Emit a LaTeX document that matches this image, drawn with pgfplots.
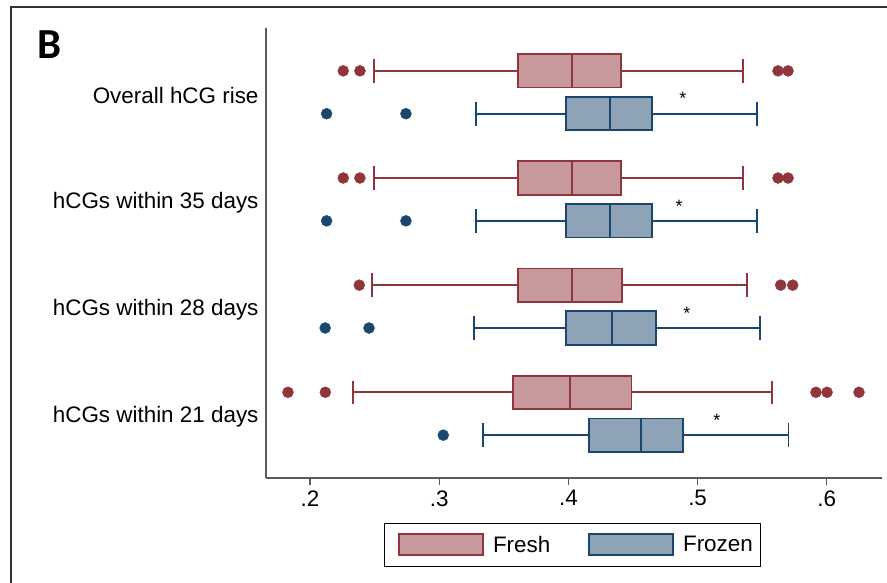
\documentclass[border=0pt]{standalone}
\usepackage{pgfplots}
\pgfplotsset{compat=1.18}
\usepgfplotslibrary{statistics}
\usepackage{fontspec}
\setmainfont{Liberation Sans}
\newfontfamily\bfont{Carlito}
\definecolor{fredE}{HTML}{90353B}
\definecolor{fredF}{HTML}{C8999C}
\definecolor{froE}{HTML}{1A476F}
\definecolor{froF}{HTML}{8FA3B6}
\definecolor{axg}{HTML}{5A5A5A}
\begin{document}
\begin{tikzpicture}
\useasboundingbox (0,0) rectangle (887bp,-583bp);
\draw[line width=1.5bp, color=black!80] (11bp,-583bp) -- (11bp,-7bp) -- (887bp,-7bp);
\node[anchor=base west, inner sep=0] at (37bp,-58bp) {\bfont\bfseries\fontsize{43}{43}\selectfont B};
\begin{axis}[
  at={(266bp,-478bp)}, anchor=south west,
  scale only axis, width=616bp, height=450bp,
  xmin=0.166, xmax=0.6427, ymin=0.4, ymax=4.6,
  axis x line*=bottom, axis y line*=left,
  axis line style={draw=axg, line width=1.2bp, -},
  xtick={0.2,0.3,0.4,0.5,0.6},
  xticklabels={.2,.3,.4,.5,.6},
  ytick={4,3,2,1},
  yticklabels={Overall hCG rise, hCGs within 35 days, hCGs within 28 days, hCGs within 21 days},
  tick align=outside,
  major tick length=7bp,
  xtick style={draw=axg, line width=1.2bp},
  ytick style={draw=none},
  tick label style={font=\fontsize{22.5}{27}\selectfont},
  /pgf/number format/assume math mode=true,
  yticklabel style={xshift=3bp, yshift=-3bp},
  xticklabel style={yshift=-2bp},
  boxplot/draw direction=x,
  boxplot/box extend=0.31,
  boxplot/whisker extend=0.22,
  legend style={at={(0.4976,-0.1)}, anchor=north, draw=black, line width=0.8bp,
    inner xsep=5.5bp, inner ysep=7bp,
    font=\fontsize{22.5}{27}\selectfont, legend columns=2,
    /tikz/every even column/.append style={column sep=28bp}},
  legend image code/.code={\draw[#1, line width=1.8bp] (0bp,-10.5bp) rectangle (84bp,10.5bp); \path (-8bp,-14bp) (92bp,14bp);},
  legend cell align=left,
]
\addlegendimage{draw=fredE, fill=fredF}
\addlegendentry{Fresh}
\addlegendimage{draw=froE, fill=froF}
\addlegendentry{Frozen}

% Overall hCG rise
\addplot[forget plot, boxplot prepared={lower whisker=0.2495, lower quartile=0.3612, median=0.4026, upper quartile=0.4405, upper whisker=0.5351, draw position=4.2}, draw=fredE, fill=fredF, line width=1.8bp] coordinates {};
\addplot[forget plot, boxplot prepared={lower whisker=0.3285, lower quartile=0.3979, median=0.4322, upper quartile=0.4645, upper whisker=0.5457, draw position=3.8}, draw=froE, fill=froF, line width=1.8bp] coordinates {};
% 35 days
\addplot[forget plot, boxplot prepared={lower whisker=0.2495, lower quartile=0.3612, median=0.4026, upper quartile=0.4405, upper whisker=0.5351, draw position=3.2}, draw=fredE, fill=fredF, line width=1.8bp] coordinates {};
\addplot[forget plot, boxplot prepared={lower whisker=0.3285, lower quartile=0.3979, median=0.4322, upper quartile=0.4645, upper whisker=0.5457, draw position=2.8}, draw=froE, fill=froF, line width=1.8bp] coordinates {};
% 28 days
\addplot[forget plot, boxplot prepared={lower whisker=0.2482, lower quartile=0.3612, median=0.4026, upper quartile=0.4417, upper whisker=0.5380, draw position=2.2}, draw=fredE, fill=fredF, line width=1.8bp] coordinates {};
\addplot[forget plot, boxplot prepared={lower whisker=0.3272, lower quartile=0.3979, median=0.4335, upper quartile=0.4676, upper whisker=0.5483, draw position=1.8}, draw=froE, fill=froF, line width=1.8bp] coordinates {};
% 21 days
\addplot[forget plot, boxplot prepared={lower whisker=0.2335, lower quartile=0.3573, median=0.4012, upper quartile=0.4489, upper whisker=0.5576, draw position=1.2}, draw=fredE, fill=fredF, line width=1.8bp] coordinates {};
\addplot[forget plot, boxplot prepared={lower whisker=0.3339, lower quartile=0.4159, median=0.4560, upper quartile=0.4889, upper whisker=0.5703, draw position=0.8}, draw=froE, fill=froF, line width=1.8bp] coordinates {};

% outliers
\addplot[forget plot, only marks, mark=*, mark size=5.5bp, color=fredE] coordinates {
 (0.2258,4.2) (0.2387,4.2) (0.5622,4.2) (0.5700,4.2)
 (0.2258,3.2) (0.2387,3.2) (0.5622,3.2) (0.5700,3.2)
 (0.2382,2.2) (0.5643,2.2) (0.5736,2.2)
 (0.1830,1.2) (0.2119,1.2) (0.5916,1.2) (0.6002,1.2) (0.6249,1.2)
};
\addplot[forget plot, only marks, mark=*, mark size=5.5bp, color=froE] coordinates {
 (0.2129,3.8) (0.2743,3.8)
 (0.2129,2.8) (0.2743,2.8)
 (0.2118,1.8) (0.2457,1.8)
 (0.3032,0.8)
};

% significance stars
\node[anchor=base, inner sep=0, font=\fontsize{18}{18}\selectfont] at (axis cs:0.4885,3.885) {*};
\node[anchor=base, inner sep=0, font=\fontsize{18}{18}\selectfont] at (axis cs:0.4856,2.878) {*};
\node[anchor=base, inner sep=0, font=\fontsize{18}{18}\selectfont] at (axis cs:0.4916,1.881) {*};
\node[anchor=base, inner sep=0, font=\fontsize{18}{18}\selectfont] at (axis cs:0.5150,0.878) {*};
\end{axis}
\end{tikzpicture}
\end{document}
